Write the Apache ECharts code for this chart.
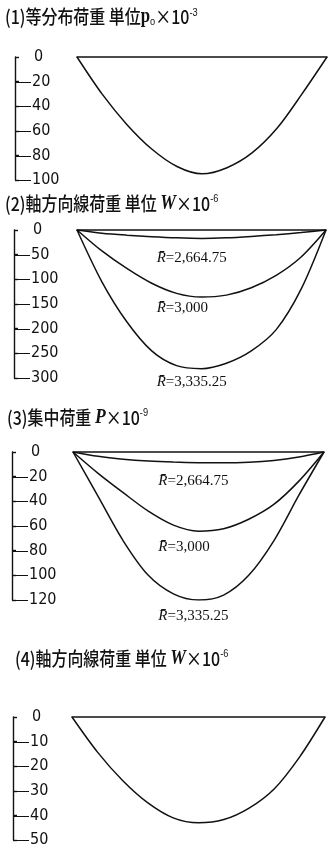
<!DOCTYPE html>
<html><head><meta charset="utf-8">
<script src="https://cdn.jsdelivr.net/npm/echarts@6/dist/echarts.min.js"></script>
<style>html,body{margin:0;padding:0;background:#fff}#c{width:328px;height:848px}</style>
</head><body><div id="c"></div>
<script>
// ---- data ----
const xs = [0, 0.1, 0.2, 0.3, 0.4, 0.5, 0.6, 0.7, 0.8, 0.9, 1];
// (1) uniform load
const p1 = [0, -30, -55, -75, -89, -95, -90, -78, -58, -30, 0];
// (2) axial line load, three R values
const p2a = [0, -6.5, -10.5, -13.5, -15.8, -17, -15.8, -13, -9.5, -5.2, 0];
const p2b = [0, -42.5, -78, -108, -128.5, -136, -132, -117, -92, -54.7, 0];
const p2c = [0, -105, -186, -245, -275, -281, -270, -245, -202, -120, 0];
// (3) concentrated load
const p3a = [0, -3.5, -5.8, -7.3, -8.2, -8.7, -8.8, -8.3, -6.8, -4, 0];
const p3b = [0, -17.3, -33, -48, -59.3, -64.2, -62.2, -54.5, -42.5, -23.6, 0];
const p3c = [0, -36, -72, -100, -115, -120, -116, -100, -72, -35, 0];
// (4) axial line load
const p4 = [0, -14, -25.5, -34.5, -40.5, -42.5, -41.2, -36.6, -28.8, -16, 0];

const yMins = [-100, -300, -120, -50];
const ySteps = [20, 50, 20, 10];
const rLabels = ['2,664.75', '3,000', '3,335.25'];
const titleTexts = [
  '{t|(1)等分布荷重 単位}{b|p}{sub|o}{t|×10}{sup|-3}',
  '{t|(2)軸方向線荷重 単位 }{it|W}{t|×10}{sup|-6}',
  '{t|(3)集中荷重 }{it|P}{t|×10}{sup|-9}',
  '{t|(4)軸方向線荷重 単位 }{it|W}{t|×10}{sup|-6}'
];

// ---- layout ----
const plotGrids = [
  {left: 77, top: 57, width: 250, height: 123},
  {left: 77, top: 230, width: 249, height: 148},
  {left: 73, top: 452, width: 251, height: 148},
  {left: 72, top: 717, width: 253, height: 124.5}
];
const axisX = [15, 14, 12, 13];
const titlePos = [[5, 17], [5, 204], [7, 418], [15, 659]];
const axisGrids = plotGrids.map((g, i) => ({left: axisX[i], top: g.top, width: 1, height: g.height}));
const grids = plotGrids.concat(axisGrids);
const INK = '#111';
const NUMFONT = '"Liberation Sans Narrow","DejaVu Sans Condensed","Roboto Condensed","Liberation Sans",sans-serif';

const titleRich = {
  t: {fontFamily: '"Noto Sans CJK JP"', fontWeight: 500, fontSize: 19, fill: INK},
  it: {fontFamily: '"Liberation Serif", serif', fontStyle: 'italic', fontWeight: 'bold', fontSize: 21, fill: INK},
  b: {fontFamily: '"Liberation Serif", serif', fontWeight: 'bold', fontSize: 20, fill: INK},
  sub: {fontFamily: '"Liberation Sans"', fontSize: 11, fill: INK, verticalAlign: 'bottom', padding: [6, 0, 0, 0]},
  sup: {fontFamily: '"Liberation Sans"', fontSize: 11, fill: INK, verticalAlign: 'top', padding: [0, 0, 9, 0]}
};

const hidden = {axisLine: {show: false}, axisTick: {show: false}, axisLabel: {show: false}, splitLine: {show: false}};
const xAxes = plotGrids.map((g, i) => ({
  gridIndex: i, type: 'value', min: 0, max: 1, position: 'top',
  axisLine: {show: true, onZero: false, lineStyle: {color: INK, width: 1.6}},
  axisTick: {show: false}, axisLabel: {show: false}, splitLine: {show: false}
})).concat(axisGrids.map((g, i) => Object.assign({gridIndex: 4 + i, type: 'value', min: 0, max: 1}, hidden)));

const yAxes = plotGrids.map((g, i) => Object.assign({gridIndex: i, type: 'value', min: yMins[i], max: 0}, hidden))
  .concat(axisGrids.map((g, i) => ({
    gridIndex: 4 + i, type: 'value', min: yMins[i], max: 0, interval: ySteps[i],
    position: 'left',
    axisLine: {show: true, onZero: false, lineStyle: {color: INK, width: 1.4}},
    axisTick: {show: true, inside: true, length: 4, lineStyle: {color: INK, width: 1.4}},
    splitLine: {show: false},
    axisLabel: {
      inside: true, margin: 1, color: INK, align: 'left',
      formatter: v => v === 0 ? '{h|—}{n|0}' : '{d|—}{n|' + Math.abs(v) + '}',
      rich: {
        d: {fontFamily: '"Liberation Sans"', fontSize: 15, color: INK, padding: [0, 1, 0, 0]},
        h: {fontFamily: '"Liberation Sans"', fontSize: 15, color: 'rgba(0,0,0,0)', padding: [0, 3, 0, 0]},
        n: {fontFamily: NUMFONT, fontSize: 16, color: INK}
      }
    }
  })));

const curves = [
  [0, p1], [1, p2a], [1, p2b], [1, p2c], [2, p3a], [2, p3b], [2, p3c], [3, p4]
];
const series = curves.map(([g, arr]) => ({
  type: 'line', xAxisIndex: g, yAxisIndex: g, smooth: 0.3, symbol: 'none',
  lineStyle: {color: INK, width: 1.5}, silent: true, animation: false,
  data: xs.map((x, k) => [x, arr[k]])
}));

const chart = echarts.init(document.getElementById('c'), null, {renderer: 'canvas'});
chart.setOption({
  backgroundColor: '#fff', animation: false,
  grid: grids, xAxis: xAxes, yAxis: yAxes, series: series
});

// titles (slightly condensed like the printed original)
const graphic = titleTexts.map((txt, i) => ({
  type: 'text', x: titlePos[i][0], y: titlePos[i][1], scaleX: 0.84, silent: true,
  style: {text: txt, verticalAlign: 'middle', align: 'left', rich: titleRich}
}));

// curve annotations (placed in data units of each panel)
const notes = [
  {g: 1, x: 0.32, y: -57, r: 0}, {g: 1, x: 0.32, y: -158, r: 1}, {g: 1, x: 0.32, y: -308, r: 2},
  {g: 2, x: 0.34, y: -23.5, r: 0}, {g: 2, x: 0.34, y: -77, r: 1}, {g: 2, x: 0.34, y: -133, r: 2}
];
notes.forEach(n => {
  const p = chart.convertToPixel({xAxisIndex: n.g, yAxisIndex: n.g}, [n.x, n.y]);
  graphic.push({
    type: 'text', x: p[0], y: p[1], silent: true,
    style: {
      text: '{r|R\u0304}{v|=' + rLabels[n.r] + '}',
      verticalAlign: 'middle', align: 'left',
      rich: {
        r: {fontFamily: '"Liberation Serif","DejaVu Serif",serif', fontStyle: 'italic', fontSize: 15, fill: INK},
        v: {fontFamily: '"Liberation Serif","DejaVu Serif",serif', fontSize: 15, fill: INK}
      }
    }
  });
});
chart.setOption({graphic: graphic});
</script></body></html>
